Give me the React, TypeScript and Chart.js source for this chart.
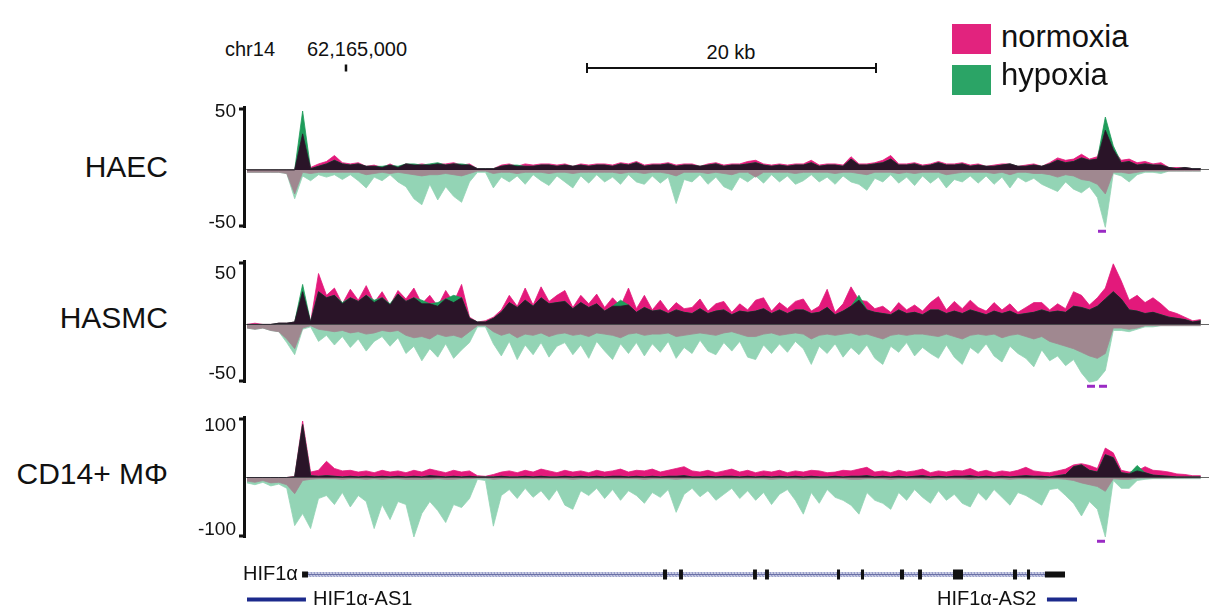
import React, { useEffect, useRef } from 'react';
import { Chart, registerables } from 'chart.js';

Chart.register(...registerables);

// ---------------- constants / styles ----------------
const FONT = '"Liberation Sans", Arial, Helvetica, sans-serif';
const PINK = '#E3197B';
const GREEN = '#1E9C5A';
const DARK = '#2A1428';
const MINT = '#93D4B5';
const MAUVE = '#A08890';
const CLIPC = '#9A2BC4';
const NAVY = '#1C2A8C';

const PX_PER_KB = 14.45;
const AREA_LEFT_PX = 244;
const DATA_START_PX = 247;
const X_MIN = (AREA_LEFT_PX - DATA_START_PX) / PX_PER_KB;
const X_MAX = (1209 - DATA_START_PX) / PX_PER_KB;
const BIN_KB = 0.55;
const PAD = 14;

// ---------------- data ----------------
const TRACK_NAMES = ['HAEC', 'HASMC', 'CD14+ MΦ'];
const TRACK_TICK_LABELS = [['50', '-50'], ['50', '-50'], ['100', '-100']];
const TRACK_Y_RANGE = [[52, -48], [52, -48], [100, -100]];

const HAEC_NORM_POS = [0,0,0,0,0,0,0,30,2,5, 7,12,6,5,6,3,4,2,5,2, 5,4,5,4,5,5,6,4,5,1, 1,1,4,5,3,5,4,5,5,4, 5,3,5,4,5,5,4,6,5,7, 4,5,5,6,4,5,5,3,5,6, 4,5,5,7,8,5,4,5,4,5, 5,8,4,5,5,4,11,5,5,6, 8,12,5,5,6,4,5,7,5,5, 6,4,5,3,4,5,5,3,4,5, 3,6,10,8,9,13,9,11,33,17, 8,9,6,7,5,6,2,2,2,1, 1];
const HAEC_HYP_POS = [0,0,0,0,0,0,0,49,1,3, 5,8,5,4,5,3,3,3,4,3, 5,5,4,5,6,4,5,5,4,1, 1,1,3,4,4,3,3,4,4,3, 4,3,4,3,4,4,3,5,4,6, 3,4,4,5,3,4,4,3,4,5, 3,4,4,5,6,4,3,4,3,4, 4,6,3,4,4,3,9,4,4,5, 6,9,4,4,5,3,4,6,4,4, 5,3,4,3,3,4,5,3,3,4, 3,5,8,6,7,10,8,9,44,20, 6,7,4,5,4,4,2,1,2,1, 1];
const HAEC_HYP_NEG = [2,2,2,2,2,3,24,5,9,4, 6,4,8,4,9,15,6,9,4,10, 14,24,29,12,25,14,22,27,10,2, 2,15,6,10,5,12,4,9,13,5, 10,15,5,11,4,10,6,12,4,10, 12,5,11,6,28,8,10,4,12,6, 14,17,6,10,5,11,4,10,5,12, 9,4,10,6,12,5,10,12,17,7, 10,4,11,6,13,5,11,6,15,8, 10,5,11,5,12,6,15,6,10,7, 12,15,18,10,16,19,14,23,48,3, 5,10,4,2,2,3,1,1,1,1, 1];
const HAEC_NORM_NEG = [2,2,2,2,2,3,20,2,3,2, 2,2,2,2,2,4,3,2,3,2, 3,4,5,4,4,3,4,5,3,1, 1,3,2,2,3,2,2,2,3,2, 2,3,2,2,2,2,2,3,2,2, 3,2,2,3,5,2,2,2,3,2, 3,4,2,2,6,2,2,2,2,3, 2,2,2,2,3,2,2,3,4,2, 2,2,3,2,3,2,2,2,4,3, 2,2,2,2,3,2,4,2,2,3, 3,4,6,4,5,8,9,12,20,2, 2,3,2,1,1,1,1,1,1,1, 1];

const HASMC_NORM_POS = [0,1,0,0,1,1,2,27,2,42, 24,30,17,29,20,32,18,27,16,28, 21,30,17,24,15,28,18,33,6,2, 3,6,12,24,15,30,16,31,19,24, 28,14,24,17,25,14,22,15,30,13, 24,12,20,11,18,13,14,21,11,17, 19,10,17,12,20,22,11,18,13,19, 21,11,15,29,10,17,31,20,19,13, 15,10,18,12,16,11,18,23,12,19, 13,20,14,11,18,12,17,10,14,18, 18,12,17,13,27,24,16,22,30,50, 36,20,24,18,22,17,11,9,6,3, 4];
const HASMC_HYP_POS = [0,0,0,0,1,1,2,33,2,27, 22,24,18,22,19,24,20,22,17,25, 19,22,20,17,18,21,24,22,5,2, 2,5,10,18,14,20,15,22,17,18, 19,13,18,14,17,11,15,20,16,10, 14,11,12,9,12,10,9,13,9,11, 12,8,11,10,11,13,9,12,9,12, 12,9,10,14,8,11,15,24,12,10, 9,8,12,9,10,8,12,12,9,11, 9,12,10,8,11,9,11,8,9,10, 12,10,11,10,15,14,12,15,21,27, 21,12,11,9,10,8,6,5,4,2, 3];
const HASMC_HYP_NEG = [3,4,3,5,6,15,25,4,2,14, 9,17,10,19,12,22,14,10,18,11, 24,18,30,20,27,16,28,21,15,2, 2,16,26,14,29,17,25,15,27,18, 15,25,17,28,14,22,29,16,24,15, 26,16,23,14,28,19,24,13,22,25, 15,22,14,27,29,17,24,16,23,14, 20,33,18,24,16,27,19,25,17,28, 33,18,23,15,26,19,24,28,17,27, 33,19,24,16,26,31,18,24,28,35, 21,30,26,34,29,40,48,46,38,5, 5,6,4,2,2,1,1,1,1,1, 1];
const HASMC_NORM_NEG = [3,4,3,5,6,12,20,3,1,4, 5,6,5,7,6,8,7,5,6,5, 9,11,10,12,8,10,9,11,6,1, 1,6,9,7,11,8,9,7,10,8, 7,9,8,10,7,8,9,11,8,7, 9,8,8,7,10,9,8,7,8,9, 7,6,8,10,10,8,7,9,8,7, 8,12,9,8,9,8,7,9,8,10, 12,9,8,9,8,8,9,10,8,10, 12,9,8,9,8,11,9,8,10,12, 10,14,16,18,20,23,26,28,24,3, 3,4,3,1,1,1,1,1,1,1, 1];

const CD14_NORM_POS = [0,0,0,0,0,0,2,94,9,12, 27,15,11,12,9,11,8,12,9,11, 8,12,9,14,11,8,12,9,11,3, 2,5,9,11,8,12,9,14,11,8, 12,9,11,8,12,9,11,14,9,12, 11,14,9,12,15,18,11,9,12,8, 11,14,9,12,8,11,9,12,8,11, 9,12,11,8,9,12,11,14,17,9, 11,8,12,9,11,14,8,11,9,12, 11,15,9,12,8,11,9,12,17,11, 9,8,11,14,21,23,20,15,49,41, 12,9,11,18,12,11,9,6,5,3, 3];
const CD14_HYP_POS = [0,0,0,0,0,0,1,88,3,2, 3,2,1,2,1,2,1,2,1,2, 1,2,1,3,2,1,2,1,2,1, 1,1,2,1,1,2,1,2,1,1, 2,1,2,1,2,1,2,2,1,2, 1,2,1,2,2,3,1,1,2,1, 2,2,1,2,1,2,1,2,1,2, 1,2,1,1,2,1,2,2,3,1, 2,1,2,1,2,3,1,2,1,2, 2,3,1,2,1,2,1,2,3,2, 2,1,3,5,18,21,12,9,38,33, 8,6,20,8,4,3,2,1,1,1, 1];
const CD14_HYP_NEG = [9,12,8,14,11,18,80,60,85,35, 30,45,25,49,30,40,85,45,70,40, 45,99,60,40,55,75,45,50,35,3, 5,81,30,20,35,18,33,22,38,20, 46,53,22,30,18,35,20,38,22,30, 43,25,33,20,58,28,18,32,22,38, 28,18,35,22,38,25,45,28,20,38, 61,25,43,20,33,38,46,61,25,38, 43,53,25,38,20,33,43,22,38,28, 43,49,25,38,20,33,46,25,30,38, 46,20,18,30,43,64,40,53,99,5, 18,18,5,3,2,2,2,2,2,2, 2];
const CD14_NORM_NEG = [6,8,5,9,8,12,27,5,3,2, 2,2,3,2,2,3,2,3,2,2, 3,3,3,3,2,3,3,2,2,1, 1,3,2,2,2,2,2,2,2,2, 2,3,2,2,2,2,2,2,2,2, 3,2,2,2,3,2,2,2,2,2, 2,2,2,2,2,2,3,2,2,2, 3,2,2,2,2,2,3,3,2,2, 2,3,2,2,2,2,3,2,2,2, 2,3,2,2,2,2,3,2,2,2, 3,2,2,3,5,9,12,15,23,2, 3,3,1,1,1,1,1,1,1,1, 1];

// positions (kb) of values clipped at the bottom of each track
const HAEC_CLIPPED_KB = [59.17];
const HASMC_CLIPPED_KB = [58.41, 59.24];
const CD14_CLIPPED_KB = [59.1];

// gene model (kb)
const GENE_ROWS = ['HIF1α', 'antisense'];
const HIF1A_INTRON_KB = [4.01, 55.29];
const HIF1A_EXON_START_KB = [28.79, 29.9, 35.02, 35.85, 40.83, 42.49, 45.19, 46.44, 48.86, 53.01, 53.98];
const HIF1A_EXON_END_KB = [29.07, 30.17, 35.29, 36.12, 41.04, 42.7, 45.47, 46.71, 49.55, 53.29, 54.19];
const HIF1A_UTR_START_KB = [3.81, 55.22];
const HIF1A_UTR_END_KB = [4.22, 56.61];
const ANTISENSE_START_KB = [0.0, 55.36];
const ANTISENSE_END_KB = [4.08, 57.44];

// header
const SCALE_BAR_KB = [23.53, 43.53];
const POSITION_TICK_KB = 6.85;

const LEGEND_LABELS = ['normoxia', 'hypoxia'];

// ---------------- layout (pixels) ----------------
const TRACK_LAYOUT = [
  { top: 102, bottom: 233, labelBaseline: 177, insetTop: 5, insetBottom: 5 },
  { top: 256, bottom: 388, labelBaseline: 328, insetTop: 13, insetBottom: 10 },
  { top: 412, bottom: 543, labelBaseline: 484, insetTop: 9, insetBottom: 9 },
];

const TRACKS = [
  { nPos: HAEC_NORM_POS, hPos: HAEC_HYP_POS, hNeg: HAEC_HYP_NEG, nNeg: HAEC_NORM_NEG, clipped: HAEC_CLIPPED_KB },
  { nPos: HASMC_NORM_POS, hPos: HASMC_HYP_POS, hNeg: HASMC_HYP_NEG, nNeg: HASMC_NORM_NEG, clipped: HASMC_CLIPPED_KB },
  { nPos: CD14_NORM_POS, hPos: CD14_HYP_POS, hNeg: CD14_HYP_NEG, nNeg: CD14_NORM_NEG, clipped: CD14_CLIPPED_KB },
];

// ---------------- helpers ----------------
function ChartCanvas({ top, height, make }: { top: number; height: number; make: (ctx: CanvasRenderingContext2D) => any }) {
  const ref = useRef<HTMLCanvasElement>(null);
  useEffect(() => {
    const c = ref.current;
    if (!c) return;
    const chart = new Chart(c, make(c.getContext('2d') as CanvasRenderingContext2D));
    return () => chart.destroy();
  }, []);
  return (
    <canvas
      ref={ref}
      width={1209}
      height={height}
      style={{ position: 'absolute', left: 0, top, width: 1209, height, display: 'block' }}
    />
  );
}

function Txt({ x, baseline, size, children, align = 'left', width = 400 }: any) {
  const left = align === 'left' ? x : align === 'right' ? x - width : x - width / 2;
  return (
    <div
      style={{
        position: 'absolute',
        left,
        width,
        top: baseline - size * 0.8465,
        fontSize: size,
        lineHeight: `${size}px`,
        textAlign: align,
        whiteSpace: 'nowrap',
        fontFamily: FONT,
        color: '#111',
      }}
    >
      {children}
    </div>
  );
}

const baseOptions = (padding: any) => ({
  responsive: false,
  animation: false,
  devicePixelRatio: 1,
  events: [],
  layout: { padding, autoPadding: false },
  plugins: { legend: { display: false }, tooltip: { enabled: false } },
});

const bracketCaps = {
  id: 'bracketCaps',
  afterDraw(chart: any) {
    const { ctx, chartArea: a } = chart;
    ctx.save();
    ctx.strokeStyle = '#111';
    ctx.lineWidth = 3;
    ctx.beginPath();
    ctx.moveTo(a.left - 5, a.top + 1.5);
    ctx.lineTo(a.left + 1, a.top + 1.5);
    ctx.moveTo(a.left - 5, a.bottom - 1.5);
    ctx.lineTo(a.left + 1, a.bottom - 1.5);
    ctx.stroke();
    ctx.restore();
  },
};

function trackConfig(ti: number) {
  const t = TRACKS[ti];
  const L = TRACK_LAYOUT[ti];
  const [ymax, ymin] = TRACK_Y_RANGE[ti];
  const labels = TRACK_TICK_LABELS[ti];
  const pts = (arr: number[], sign: number) => arr.map((v, i) => ({ x: i * BIN_KB, y: sign * v }));
  const overlap = t.nPos.map((v, i) => Math.min(v, t.hPos[i]));
  const area = (label: string, arr: number[], sign: number, color: string) => ({
    label,
    data: pts(arr, sign),
    borderColor: color,
    backgroundColor: color,
    borderWidth: 0.8,
    pointRadius: 0,
    fill: 'origin',
    tension: 0,
  });
  const vpp = (ymax - ymin) / (L.bottom - L.top);
  return {
    type: 'line',
    data: {
      datasets: [
        {
          label: 'clipped',
          data: t.clipped.map((x) => ({ x, y: ymin - 4 * vpp })),
          showLine: false,
          pointStyle: 'line',
          pointRadius: 4,
          pointBorderWidth: 3,
          pointBorderColor: CLIPC,
          pointBackgroundColor: CLIPC,
          clip: false,
        },
        area('overlap', overlap, 1, DARK),
        area('hypoxia +', t.hPos, 1, GREEN),
        area('normoxia +', t.nPos, 1, PINK),
        area('normoxia −', t.nNeg, -1, MAUVE),
        area('hypoxia −', t.hNeg, -1, MINT),
      ],
    },
    options: {
      ...baseOptions({ top: PAD, bottom: PAD, left: 0, right: 0 }),
      scales: {
        x: { type: 'linear', min: X_MIN, max: X_MAX, display: false },
        y: {
          type: 'linear',
          min: ymin,
          max: ymax,
          afterFit: (s: any) => {
            s.width = AREA_LEFT_PX;
          },
          afterBuildTicks: (s: any) => {
            s.ticks = [{ value: ymin + L.insetBottom * vpp }, { value: 0 }, { value: ymax - L.insetTop * vpp }];
          },
          ticks: {
            autoSkip: false,
            padding: 8,
            color: '#111',
            font: { family: FONT, size: 19 },
            callback: (_v: any, i: number) => (i === 0 ? labels[1] : i === 2 ? labels[0] : ''),
          },
          grid: {
            drawTicks: false,
            lineWidth: 1,
            color: (c: any) => (c.tick && c.tick.value === 0 ? '#666' : 'rgba(0,0,0,0)'),
          },
          border: { display: true, color: '#111', width: 3 },
        },
      },
    },
    plugins: [bracketCaps],
  };
}

function geneConfig(ctx: CanvasRenderingContext2D) {
  const pc = document.createElement('canvas');
  pc.width = 3;
  pc.height = 6;
  const g = pc.getContext('2d') as CanvasRenderingContext2D;
  g.fillStyle = '#C9CCE4';
  g.fillRect(0, 0, 3, 6);
  g.strokeStyle = '#8A90C0';
  g.lineWidth = 1;
  g.beginPath();
  g.moveTo(0, 0);
  g.lineTo(3, 6);
  g.stroke();
  const hatch = ctx.createPattern(pc, 'repeat');

  const segs = (starts: number[], ends: number[], row: string) =>
    starts.flatMap((s, i) => [
      { x: s, y: row },
      { x: ends[i], y: row },
      { x: ends[i], y: null },
    ]);
  const seg = (label: string, data: any[], color: any, width: number) => ({
    label,
    data,
    borderColor: color,
    backgroundColor: color,
    borderWidth: width,
    borderCapStyle: 'butt',
    pointRadius: 0,
    fill: false,
    tension: 0,
    spanGaps: false,
    clip: false,
  });
  return {
    type: 'line',
    data: {
      datasets: [
        seg('exons', segs(HIF1A_EXON_START_KB, HIF1A_EXON_END_KB, GENE_ROWS[0]), '#111', 10),
        seg('utr', segs(HIF1A_UTR_START_KB, HIF1A_UTR_END_KB, GENE_ROWS[0]), '#111', 6),
        seg('intron line', segs([HIF1A_INTRON_KB[0]], [HIF1A_INTRON_KB[1]], GENE_ROWS[0]), '#6A70A6', 1),
        seg('intron', segs([HIF1A_INTRON_KB[0]], [HIF1A_INTRON_KB[1]], GENE_ROWS[0]), hatch, 5),
        seg('antisense', segs(ANTISENSE_START_KB, ANTISENSE_END_KB, GENE_ROWS[1]), NAVY, 4),
      ],
    },
    options: {
      ...baseOptions({ top: 0, bottom: 0, left: AREA_LEFT_PX, right: 0 }),
      scales: {
        x: { type: 'linear', min: X_MIN, max: X_MAX, display: false },
        y: { type: 'category', labels: GENE_ROWS, offset: true, display: false },
      },
    },
  };
}

function headerConfig() {
  return {
    type: 'line',
    data: {
      datasets: [
        {
          label: '20 kb',
          data: SCALE_BAR_KB.map((x) => ({ x, y: 0 })),
          borderColor: '#111',
          borderWidth: 2,
          pointStyle: 'line',
          pointRotation: 90,
          pointRadius: 5,
          pointBorderWidth: 2,
          pointBorderColor: '#111',
          fill: false,
          clip: false,
        },
        {
          label: 'position',
          data: [{ x: POSITION_TICK_KB, y: 0 }],
          showLine: false,
          pointStyle: 'line',
          pointRotation: 90,
          pointRadius: 3.5,
          pointBorderWidth: 2.5,
          pointBorderColor: '#111',
          clip: false,
        },
      ],
    },
    options: {
      ...baseOptions({ top: 0, bottom: 0, left: AREA_LEFT_PX, right: 0 }),
      scales: {
        x: { type: 'linear', min: X_MIN, max: X_MAX, display: false },
        y: { type: 'linear', min: -1, max: 1, display: false },
      },
    },
  };
}

export default function App() {
  return (
    <div
      style={{
        position: 'fixed',
        left: 0,
        top: 0,
        width: 1209,
        height: 612,
        background: '#fff',
        overflow: 'hidden',
        fontFamily: FONT,
      }}
    >
      {/* header */}
      <Txt x={225} baseline={56} size={20}>chr14</Txt>
      <Txt x={307} baseline={56} size={20}>62,165,000</Txt>
      <Txt x={731} baseline={59} size={20} align="center" width={200}>20 kb</Txt>
      <ChartCanvas top={56} height={24} make={() => headerConfig()} />

      {/* legend */}
      <div style={{ position: 'absolute', left: 952, top: 24, width: 39, height: 30, background: '#E2237E' }} />
      <div style={{ position: 'absolute', left: 952, top: 65, width: 39, height: 30, background: '#2BA466' }} />
      <Txt x={1001} baseline={47} size={31}>{LEGEND_LABELS[0]}</Txt>
      <Txt x={1001} baseline={85} size={31}>{LEGEND_LABELS[1]}</Txt>

      {/* tracks */}
      {TRACK_LAYOUT.map((L, i) => (
        <React.Fragment key={i}>
          <Txt x={168} baseline={L.labelBaseline} size={30} align="right" width={200}>{TRACK_NAMES[i]}</Txt>
          <ChartCanvas top={L.top - PAD} height={L.bottom - L.top + 2 * PAD} make={() => trackConfig(i)} />
        </React.Fragment>
      ))}

      {/* gene model */}
      <ChartCanvas top={562} height={50} make={(ctx) => geneConfig(ctx)} />
      <Txt x={243} baseline={580} size={20}>HIF1α</Txt>
      <Txt x={313} baseline={605} size={20}>HIF1α-AS1</Txt>
      <Txt x={937} baseline={605} size={20}>HIF1α-AS2</Txt>
    </div>
  );
}
